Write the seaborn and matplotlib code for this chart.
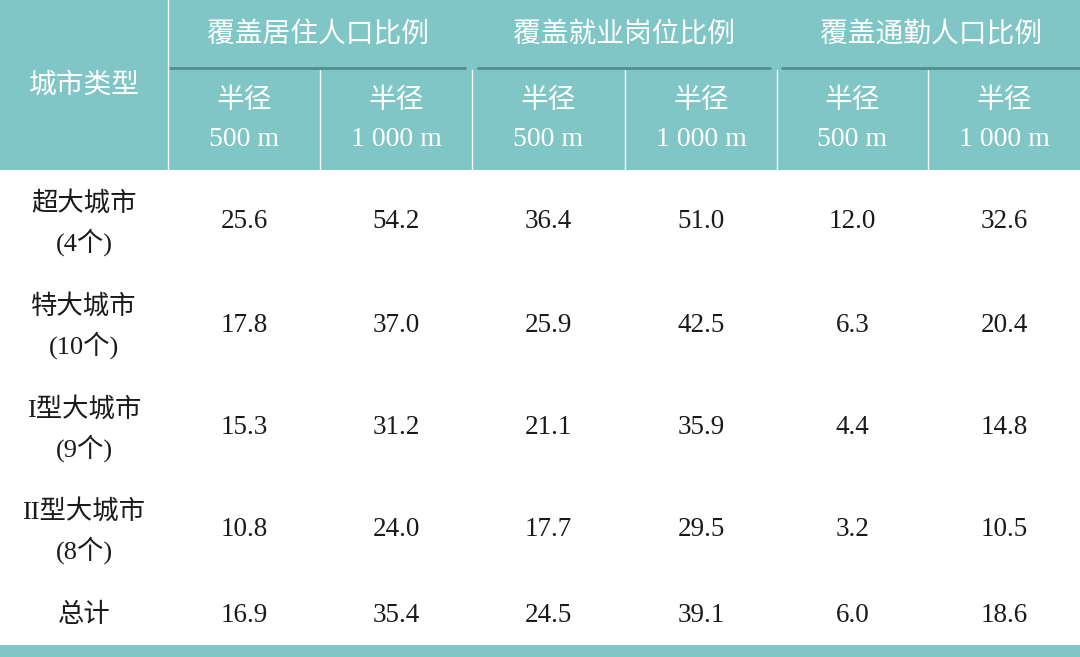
import matplotlib
matplotlib.use("Agg")
import matplotlib.pyplot as plt
import seaborn as sns

sns.set_theme(style="white")
plt.rcParams['font.family'] = ['Liberation Serif', 'Noto Sans CJK SC', 'DejaVu Sans']

groups = ["覆盖居住人口比例", "覆盖就业岗位比例", "覆盖通勤人口比例"]
sub_radius = ["500 m", "1 000 m"]
city_names = ["超大城市", "特大城市", "I型大城市", "II型大城市", "总计"]
city_counts = ["(4个)", "(10个)", "(9个)", "(8个)", ""]
values = [
    [25.6, 54.2, 36.4, 51.0, 12.0, 32.6],
    [17.8, 37.0, 25.9, 42.5, 6.3, 20.4],
    [15.3, 31.2, 21.1, 35.9, 4.4, 14.8],
    [10.8, 24.0, 17.7, 29.5, 3.2, 10.5],
    [16.9, 35.4, 24.5, 39.1, 6.0, 18.6],
]

teal = "#80c6c6"
line_c = "#4f8f90"
text_c = "#1a1a1a"

fig = plt.figure(figsize=(10.8, 6.57), dpi=100)
ax = fig.add_axes([0, 0, 1, 1])
ax.set_xlim(0, 1080)
ax.set_ylim(657, 0)
ax.axis("off")

ax.add_patch(plt.Rectangle((0, 0), 1080, 170, color=teal, lw=0))
ax.add_patch(plt.Rectangle((0, 645), 1080, 12, color=teal, lw=0))

col_edges = [0, 168, 320, 472, 625, 777, 928, 1080]
col_centers = [(col_edges[i] + col_edges[i + 1]) / 2 for i in range(7)]

for x in col_edges[1:-1]:
    top = 0 if x == 168 else 70
    ax.plot([x, x], [top, 170], color="white", lw=1)

group_spans = [(170, 465), (478, 770), (782, 1080)]
for g, (x0, x1) in zip(groups, group_spans):
    ax.text((x0 + x1) / 2, 35, g, ha="center", va="center", color="white", fontsize=20)
    ax.plot([x0, x1], [68, 68], color=line_c, lw=2)

ax.text(col_centers[0], 86, "城市类型", ha="center", va="center", color="white", fontsize=20)
for j in range(6):
    ax.text(col_centers[j + 1], 101, "半径", ha="center", va="center", color="white", fontsize=20)
    ax.text(col_centers[j + 1], 140, sub_radius[j % 2], ha="center", va="center",
            color="white", fontsize=20)

row_y = [222, 325, 428, 530, 615]
for i in range(len(city_names)):
    if city_counts[i]:
        ax.text(col_centers[0], row_y[i] - 19, city_names[i], ha="center", va="center",
                color=text_c, fontsize=19)
        ax.text(col_centers[0], row_y[i] + 20, city_counts[i], ha="center", va="center",
                color=text_c, fontsize=19)
    else:
        ax.text(col_centers[0], row_y[i], city_names[i], ha="center", va="center",
                color=text_c, fontsize=19)
    for j, v in enumerate(values[i]):
        ax.text(col_centers[j + 1], row_y[i], f"{v:.1f}", ha="center", va="center",
                color=text_c, fontsize=19.5)

plt.savefig("out.png", dpi=100)
